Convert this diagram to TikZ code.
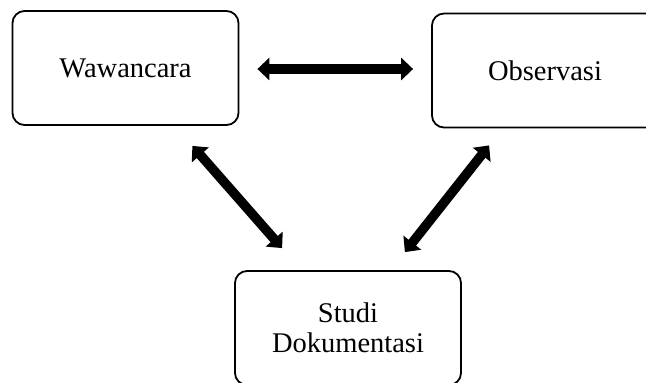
\documentclass[tikz,border=0pt]{standalone}
\usepackage{fontspec}
\setmainfont{Liberation Serif}
\usetikzlibrary{arrows.meta}

\tikzset{
  box/.style={draw, line width=1.8pt, rounded corners=12pt,
    minimum width=226pt, minimum height=114pt, align=center,
    font=\fontsize{28.5}{30}\selectfont},
  biarrow/.style={line width=9.5pt,
    {Triangle[width=22pt,length=12pt]}-{Triangle[width=22pt,length=12pt]}}
}

\begin{document}
\begin{tikzpicture}[x=1pt,y=-1pt]
    \clip (0,0) rectangle (646,383);

    \node[box] (wa) at (125.5,68)  {Wawancara};
    \node[box] (ob) at (545,70.5)  {Observasi};
    \node[box] (sd) at (348,328)   {Studi\\Dokumentasi};

    \draw[biarrow] ([shift={(18,1)}]wa.east) -- ([shift={(-18,-1.5)}]ob.west);
    \draw[biarrow] ([shift={(-47,20)}]wa.south east) -- ([shift={(48,-22)}]sd.north west);
    \draw[biarrow] ([shift={(58,17)}]ob.south west) -- ([shift={(-57,-18)}]sd.north east);
  \end{tikzpicture}
\end{document}
